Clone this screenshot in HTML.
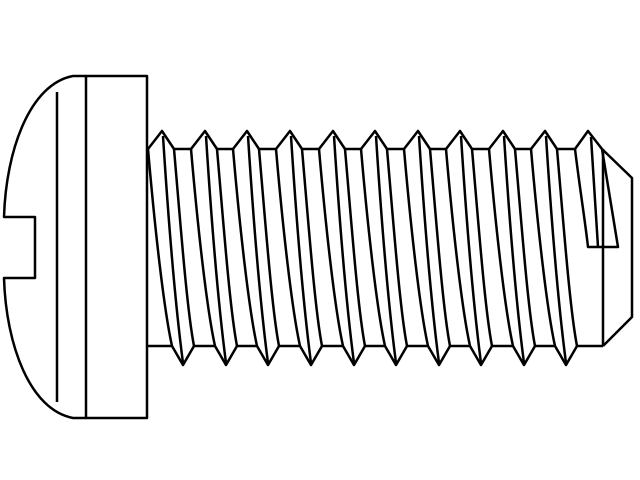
<!DOCTYPE html>
<html><head><style>html,body{margin:0;padding:0;background:#fff}svg{display:block}</style></head>
<body>
<svg width="640" height="480" viewBox="0 0 640 480" xmlns="http://www.w3.org/2000/svg">
<defs>
<g id="th">
<path d="M-14,149 L0,131 L12,149"/>
<path d="M10,346 L21,365 L32,346"/>
<path d="M-14,149 C-7,230 2,310 10,346"/>
<path d="M1,136 C7,230 14,310 21,363"/>
<path d="M12,149 C19,230 25,310 32,346"/>
</g>
</defs>
<g fill="none" stroke="#000" stroke-width="2.5" stroke-linejoin="round">
<rect x="86" y="76" width="61" height="342"/>
<line x1="57" y1="92" x2="57" y2="402"/>
<path d="M86,76 L73,76 C30,84 6,150 4,217 L35,217 L35,278 L4,278 C6,345 30,410 73,418 L86,418"/>
<path d="M174,149H191 M217,149H233 M259,149H276 M302,149H319 M345,149H361 M387,149H404 M430,149H446 M472,149H489 M515,149H531 M557,149H575"/>
<path d="M147,346H172 M194,346H215 M237,346H257 M279,346H300 M322,346H343 M365,346H385 M407,346H428 M450,346H470 M492,346H513 M535,346H555 M577,346H603"/>
<path d="M603,149 V346"/>
<path d="M602,149 L632,178 L632,317 L603,346"/>
<use href="#th" x="162"/>
<use href="#th" x="205"/>
<use href="#th" x="247"/>
<use href="#th" x="290"/>
<use href="#th" x="333"/>
<use href="#th" x="375"/>
<use href="#th" x="418"/>
<use href="#th" x="460"/>
<use href="#th" x="503"/>
<use href="#th" x="545"/>
<path d="M575,149 L588,131 L602,149"/>
<path d="M575,149 C580,190 585,220 588,247 L618,247 L602,149 M598,247 L591,137"/>
</g>
</svg>
</body></html>
